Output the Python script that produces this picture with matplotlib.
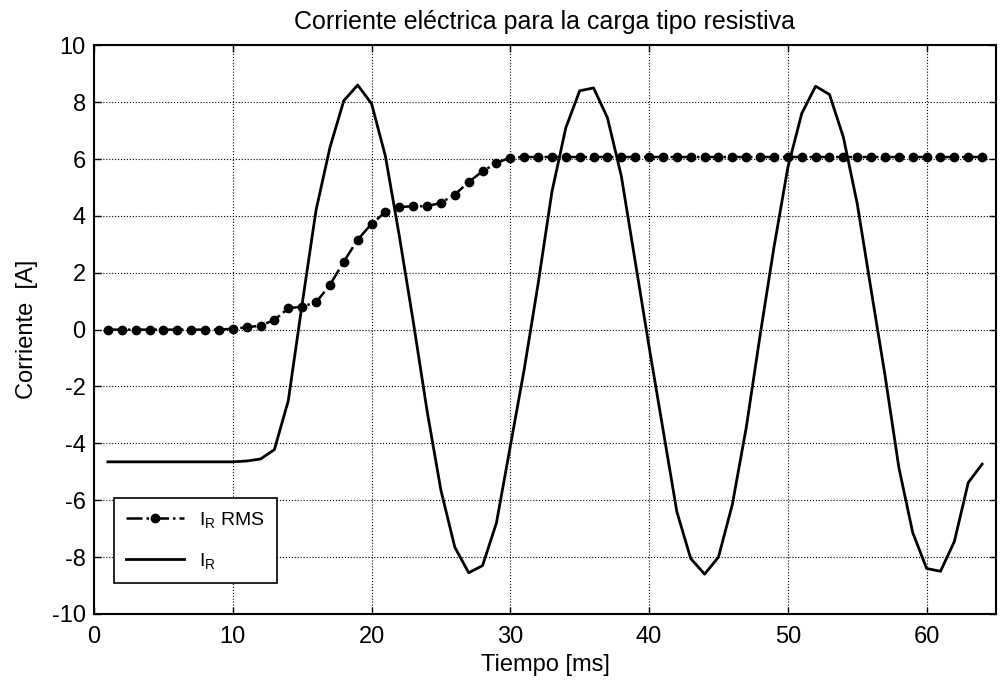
import matplotlib
matplotlib.use('Agg')
import matplotlib.pyplot as plt
import numpy as np

plt.rcParams['font.family'] = ['Liberation Sans', 'DejaVu Sans']
plt.rcParams['mathtext.default'] = 'regular'
plt.rcParams['axes.unicode_minus'] = False
plt.rc('font', size=17)
plt.rc('xtick', labelsize=17)
plt.rc('ytick', labelsize=17)

# time samples [ms]
t_ms = np.arange(1, 65)

# current I_R [A]
i_r = [-4.65, -4.65, -4.65, -4.65, -4.65, -4.65, -4.65, -4.65, -4.65, -4.65,
       -4.62, -4.55, -4.22, -2.5, 0.9, 4.2, 6.4, 8.05, 8.6, 7.95,
       6.1, 3.3, 0.3, -2.85, -5.65, -7.65, -8.55, -8.3, -6.8, -4.1,
       -1.4, 1.6, 4.85, 7.1, 8.4, 8.5, 7.45, 5.4, 2.4, -0.6,
       -3.5, -6.4, -8.05, -8.6, -8.0, -6.15, -3.45, -0.2, 2.9, 5.7,
       7.6, 8.56, 8.27, 6.77, 4.43, 1.4, -1.6, -4.85, -7.14, -8.4,
       -8.5, -7.45, -5.38, -4.73]

# RMS value of I_R [A]
i_r_rms = [0.0, 0.0, 0.0, 0.0, 0.0, 0.0, 0.0, 0.0, 0.0, 0.03,
           0.08, 0.14, 0.34, 0.75, 0.81, 0.96, 1.57, 2.39, 3.16, 3.72,
           4.13, 4.31, 4.34, 4.34, 4.46, 4.75, 5.19, 5.57, 5.86, 6.05,
           6.07, 6.07, 6.07, 6.07, 6.07, 6.07, 6.07, 6.07, 6.07, 6.07,
           6.07, 6.07, 6.07, 6.07, 6.07, 6.07, 6.07, 6.07, 6.07, 6.07,
           6.07, 6.07, 6.07, 6.07, 6.07, 6.07, 6.07, 6.07, 6.07, 6.07,
           6.07, 6.07, 6.07, 6.07]

fig = plt.figure(figsize=(10, 6.86), dpi=100)
ax = fig.add_axes([0.094, 0.105, 0.902, 0.829])

ax.plot(t_ms, i_r_rms, color='black', linestyle='-.', linewidth=1.8,
        marker='o', markersize=6, label='I$_R$ RMS')
ax.plot(t_ms, i_r, color='black', linestyle='-', linewidth=2.0, label='I$_R$')

ax.set_xlim(0, 65)
ax.set_ylim(-10, 10)
ax.set_xticks(np.arange(0, 61, 10))
ax.set_yticks(np.arange(-10, 11, 2))
ax.grid(True, color='black', linestyle=':', linewidth=0.8)
ax.set_axisbelow(True)
ax.tick_params(direction='in', top=True, right=True, length=5, width=1)
ax.tick_params(axis='x', pad=9)
ax.tick_params(axis='y', pad=6)
for s in ax.spines.values():
    s.set_linewidth(1.5)

ax.set_title('Corriente eléctrica para la carga tipo resistiva', fontsize=18, pad=12)
ax.set_xlabel('Tiempo [ms]', fontsize=17, labelpad=4)
ax.set_ylabel('Corriente  [A]', fontsize=17, labelpad=10)

leg = ax.legend(loc='lower left', bbox_to_anchor=(0.022, 0.055), borderaxespad=0,
                fancybox=False, framealpha=1, edgecolor='black', fontsize=14,
                handlelength=3.0, labelspacing=1.1, borderpad=0.6)
leg.get_frame().set_linewidth(1.2)

plt.savefig('out.png', dpi=100)
